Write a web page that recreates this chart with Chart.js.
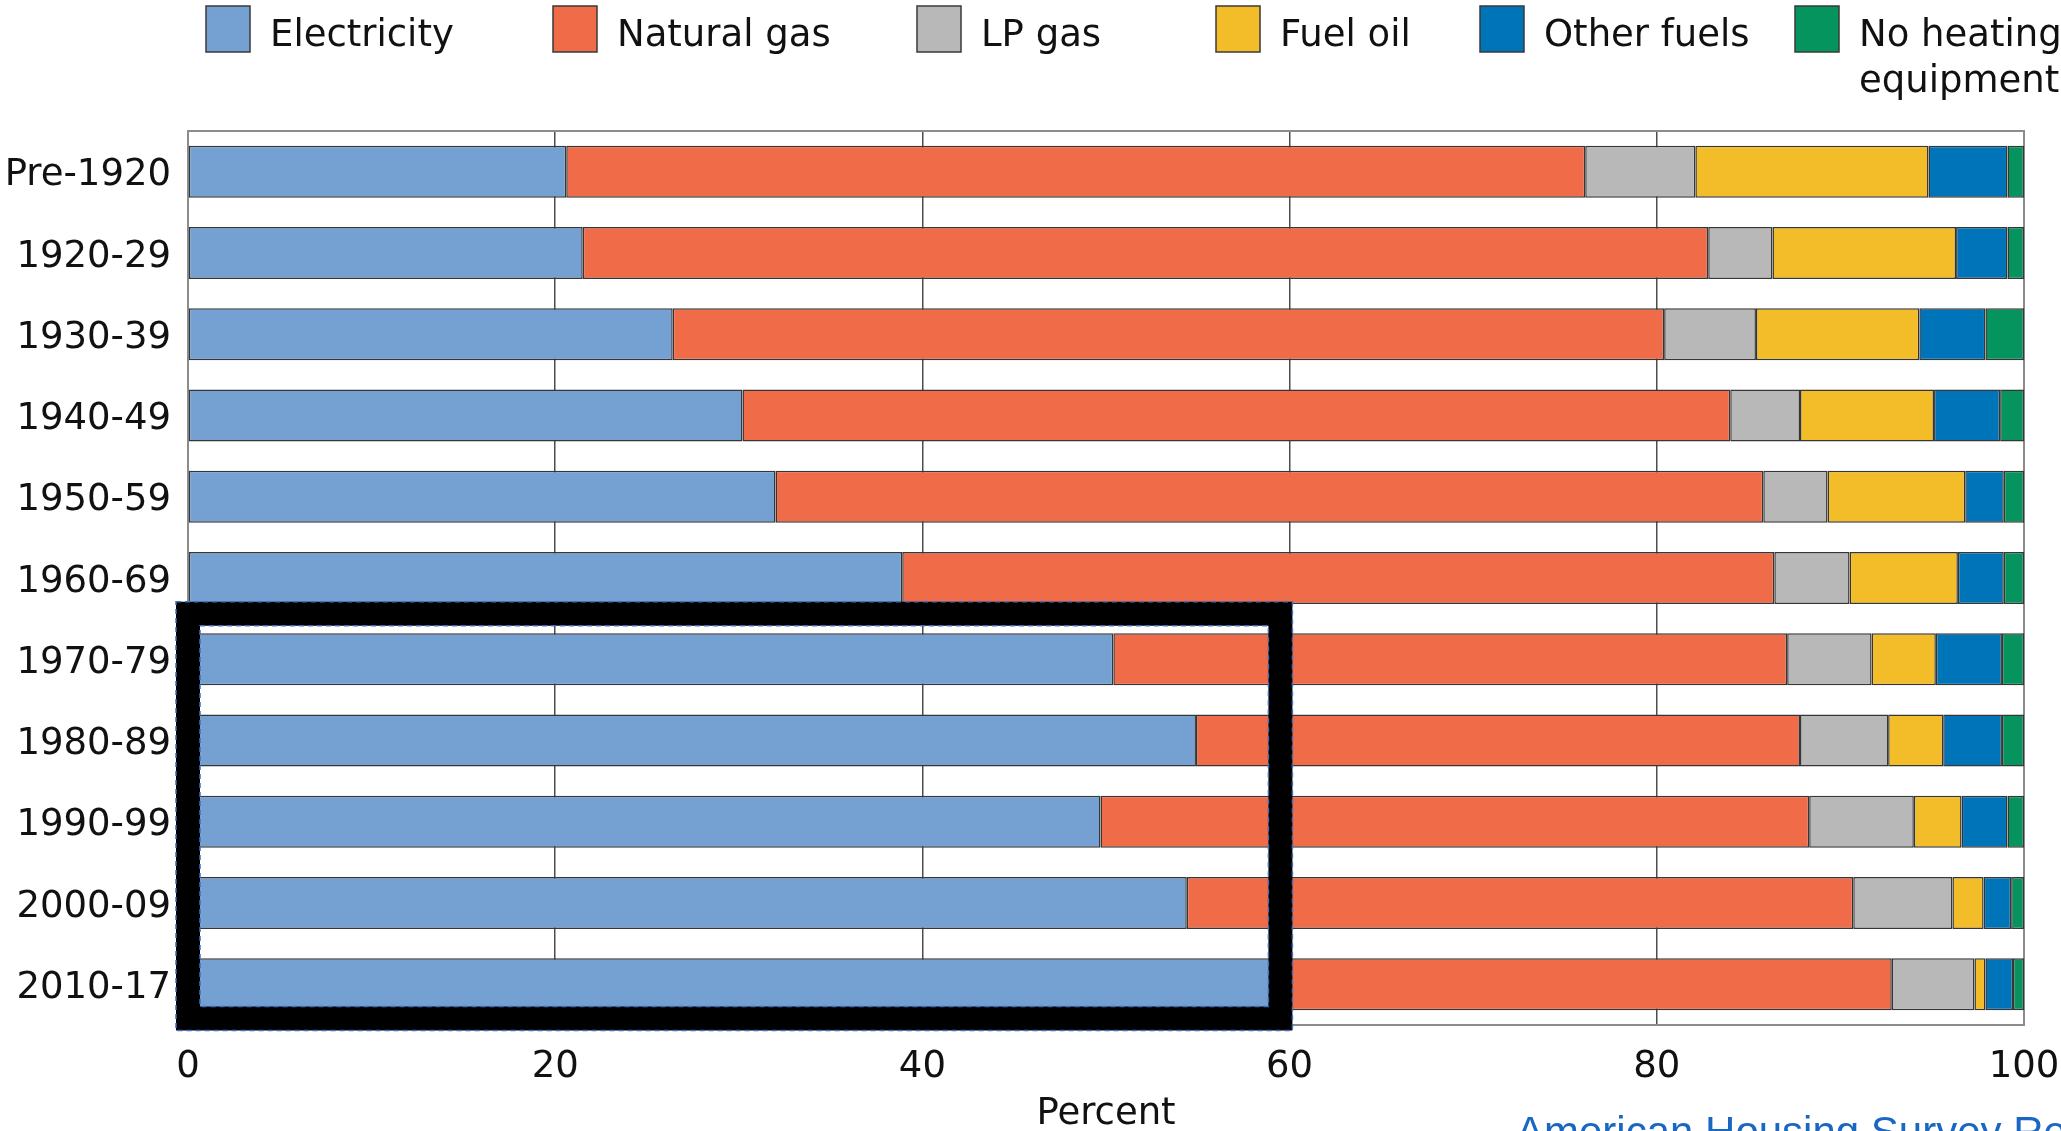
<!DOCTYPE html>
<html>
<head>
<meta charset="utf-8">
<title>Main heating fuel by year built</title>
<script src="https://cdn.jsdelivr.net/npm/chart.js@4.4.1/dist/chart.umd.min.js"></script>
<style>
  html, body { margin: 0; padding: 0; background: #fff; }
  #chart { display: block; }
</style>
</head>
<body>
<canvas id="chart" width="2061" height="1131"></canvas>
<script>
// Decade the home was built
const periods = ['Pre-1920', '1920-29', '1930-39', '1940-49', '1950-59', '1960-69',
  '1970-79', '1980-89', '1990-99', '2000-09', '2010-17'];

// Share of homes (percent) by main heating fuel
const electricity = [20.6, 21.5, 26.4, 30.2, 32.0, 38.9, 50.4, 54.9, 49.7, 54.4, 59.5];
const naturalGas  = [55.5, 61.3, 54.0, 53.8, 53.8, 47.5, 36.7, 32.9, 38.6, 36.3, 33.3];
const lpGas       = [6.0, 3.5, 5.0, 3.8, 3.5, 4.1, 4.6, 4.8, 5.7, 5.4, 4.5];
const fuelOil     = [12.7, 10.0, 8.9, 7.3, 7.5, 5.9, 3.5, 3.0, 2.6, 1.7, 0.6];
const otherFuels  = [4.3, 2.8, 3.6, 3.6, 2.1, 2.5, 3.6, 3.2, 2.5, 1.5, 1.5];
const noHeating   = [0.9, 0.9, 2.1, 1.3, 1.1, 1.1, 1.2, 1.2, 0.9, 0.7, 0.6];

const percentTicks = [0, 20, 40, 60, 80, 100];

// Highlight frame, in axis units (x: percent, y: category index)
const highlight = { xFrom: 0, xTo: 59.5, yFrom: 5.44, yTo: 10.42 };

const FONT = 'DejaVu Sans';

const series = [
  { label: 'Electricity', data: electricity, color: '#74a1d2' },
  { label: 'Natural gas', data: naturalGas, color: '#f06b47' },
  { label: 'LP gas', data: lpGas, color: '#b8b8b8' },
  { label: 'Fuel oil', data: fuelOil, color: '#f2bd29' },
  { label: 'Other fuels', data: otherFuels, color: '#0074b9' },
  { label: ['No heating', 'equipment'], data: noHeating, color: '#05935e' }
];

// Outline around the plotting area
const framePlugin = {
  id: 'frame',
  beforeDatasetsDraw(chart) {
    const { ctx, chartArea: a } = chart;
    ctx.save();
    ctx.strokeStyle = '#8c8c8c';
    ctx.lineWidth = 2;
    ctx.strokeRect(a.left, a.top, a.right - a.left, a.bottom - a.top);
    ctx.restore();
  }
};

// Thick black box drawn over the electricity shares of recent decades
const highlightPlugin = {
  id: 'highlight',
  afterDatasetsDraw(chart) {
    const { ctx, scales } = chart;
    const x0 = scales.x.getPixelForValue(highlight.xFrom);
    const x1 = scales.x.getPixelForValue(highlight.xTo);
    const y0 = scales.y.getPixelForValue(highlight.yFrom);
    const y1 = scales.y.getPixelForValue(highlight.yTo);
    const w = 24;
    ctx.save();
    ctx.strokeStyle = '#000';
    ctx.lineWidth = w;
    ctx.strokeRect(x0, y0, x1 - x0, y1 - y0);
    // dashed selection edges
    ctx.strokeStyle = '#3d6fc6';
    ctx.lineWidth = 1.5;
    ctx.setLineDash([5, 4]);
    ctx.strokeRect(x0 - w / 2, y0 - w / 2, x1 - x0 + w, y1 - y0 + w);
    ctx.strokeRect(x0 + w / 2, y0 + w / 2, x1 - x0 - w, y1 - y0 - w);
    ctx.restore();
  }
};

// Legend row across the top, plus the source line at the bottom
const legendX = [206, 553, 917, 1216, 1480, 1795];
const legendPlugin = {
  id: 'topLegend',
  afterDraw(chart) {
    const ctx = chart.ctx;
    ctx.save();
    ctx.font = `37px "${FONT}"`;
    ctx.textBaseline = 'alphabetic';
    ctx.textAlign = 'left';
    chart.data.datasets.forEach((ds, i) => {
      const x = legendX[i];
      ctx.fillStyle = ds.backgroundColor;
      ctx.fillRect(x, 6, 44, 46);
      ctx.strokeStyle = '#3a3a3a';
      ctx.lineWidth = 1.5;
      ctx.strokeRect(x, 6, 44, 46);
      ctx.fillStyle = '#111';
      const lines = Array.isArray(ds.label) ? ds.label : [ds.label];
      lines.forEach((t, j) => ctx.fillText(t, x + 64, 46 + j * 46));
    });

    ctx.font = '42px "Liberation Sans"';
    ctx.fillStyle = '#1a67c2';
    ctx.fillText('American Housing Survey Report', 1516, 1146);
    ctx.restore();
  }
};

new Chart(document.getElementById('chart'), {
  type: 'bar',
  data: {
    labels: periods,
    datasets: series.map(s => ({
      label: s.label,
      data: s.data,
      backgroundColor: s.color,
      borderColor: '#363636',
      borderWidth: 1.5,
      borderSkipped: false,
      barPercentage: 0.64,
      categoryPercentage: 1.0
    }))
  },
  options: {
    indexAxis: 'y',
    responsive: false,
    animation: false,
    devicePixelRatio: 1,
    layout: { padding: { top: 131, right: 37, left: 0, bottom: 0 } },
    plugins: {
      legend: { display: false },
      tooltip: { enabled: false }
    },
    scales: {
      x: {
        stacked: true,
        min: 0,
        max: 100,
        afterBuildTicks(scale) {
          scale.ticks = percentTicks.map(v => ({ value: v }));
        },
        afterFit(scale) {
          scale.height = 106;
          scale.paddingLeft = 0;
          scale.paddingRight = 0;
        },
        border: { display: false },
        grid: {
          drawTicks: false,
          lineWidth: 1.5,
          color: ctx => (ctx.tick && (ctx.tick.value === 0 || ctx.tick.value === 100)) ? 'rgba(0,0,0,0)' : '#4d4d4d'
        },
        ticks: {
          padding: 20,
          color: '#111',
          font: { family: FONT, size: 37 }
        },
        title: {
          display: true,
          text: 'Percent',
          color: '#111',
          font: { family: FONT, size: 37, lineHeight: 0.8 },
          padding: { top: 0, bottom: 2 }
        }
      },
      y: {
        stacked: true,
        afterFit(scale) {
          scale.width = 188;
          scale.paddingTop = 0;
          scale.paddingBottom = 0;
        },
        border: { display: false },
        grid: { display: false, drawTicks: false },
        ticks: {
          padding: 17,
          labelOffset: 4,
          color: '#111',
          font: { family: FONT, size: 37 }
        }
      }
    }
  },
  plugins: [framePlugin, highlightPlugin, legendPlugin]
});
</script>
</body>
</html>
